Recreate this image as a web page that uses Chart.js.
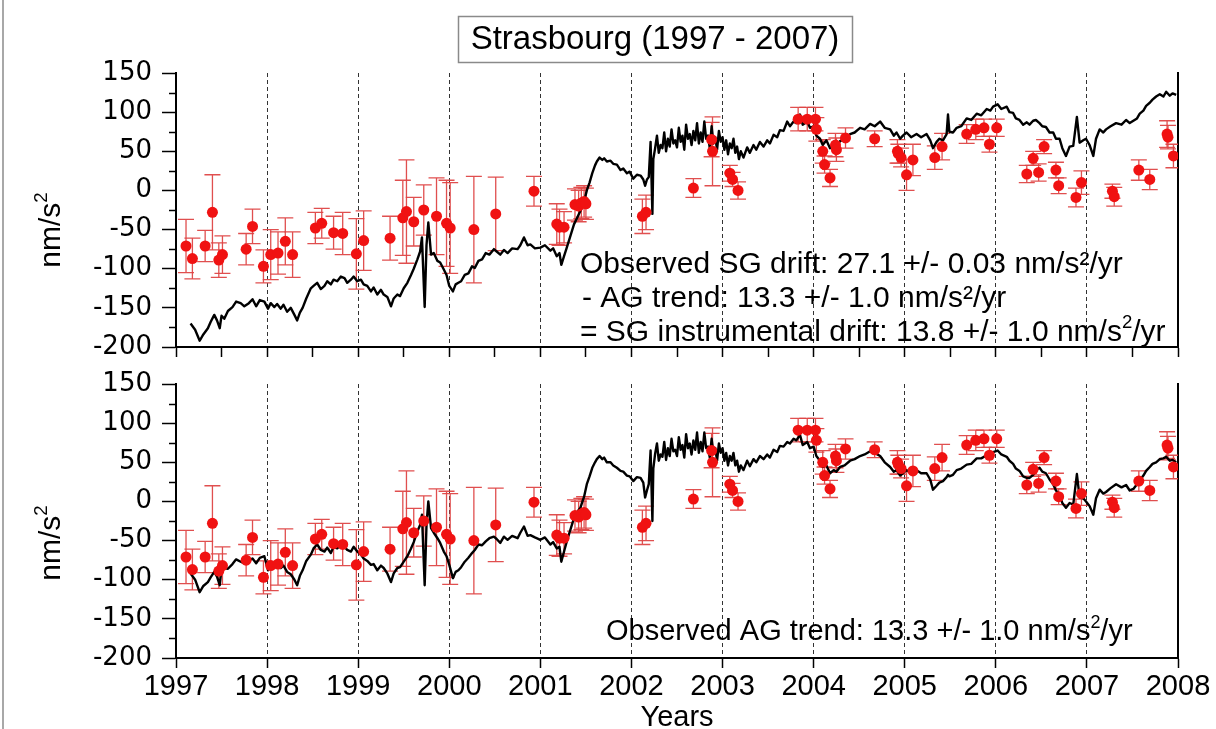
<!DOCTYPE html>
<html>
<head>
<meta charset="utf-8">
<script src="https://cdn.jsdelivr.net/npm/chart.js@4.4.1/dist/chart.umd.min.js"></script>
<style>
  html, body { margin: 0; padding: 0; background: #fff; }
  #wrap { position: relative; width: 1216px; height: 729px; overflow: hidden; }
  #wrap::before { content: ''; position: absolute; left: 2px; top: 0; width: 2px; height: 729px; background: #a8a8a8; }
  #top { position: absolute; left: 0; top: 0; }
  #bottom { position: absolute; left: 0; top: 365px; }
</style>
</head>
<body>
<div id="wrap">
  <canvas id="top" width="1216" height="365"></canvas>
  <canvas id="bottom" width="1216" height="364"></canvas>
</div>
<script>
// SG record (black line), one row per year
const sgYears = [
  1997.16, 1997.21, 1997.26, 1997.30, 1997.35, 1997.38, 1997.42, 1997.45, 1997.48, 1997.50, 1997.53, 1997.57, 1997.62, 1997.66, 1997.71, 1997.75, 1997.80, 1997.84, 1997.88, 1997.92, 1997.97,
  1998.01, 1998.04, 1998.08, 1998.11, 1998.15, 1998.18, 1998.22, 1998.26, 1998.30, 1998.33, 1998.36, 1998.39, 1998.43, 1998.48, 1998.51, 1998.55, 1998.59, 1998.63, 1998.66, 1998.70, 1998.73, 1998.77, 1998.81, 1998.85, 1998.88, 1998.92, 1998.95, 1998.99,
  1999.03, 1999.06, 1999.10, 1999.14, 1999.17, 1999.21, 1999.25, 1999.28, 1999.32, 1999.36, 1999.39, 1999.43, 1999.46, 1999.50, 1999.54, 1999.58, 1999.61, 1999.65, 1999.68, 1999.70, 1999.73, 1999.75, 1999.77, 1999.80, 1999.83, 1999.87, 1999.90, 1999.94, 1999.97, 2000.00,
  2000.04, 2000.07, 2000.10, 2000.13, 2000.17, 2000.21, 2000.25, 2000.28, 2000.32, 2000.36, 2000.40, 2000.44, 2000.49, 2000.52, 2000.56, 2000.60, 2000.64, 2000.69, 2000.75, 2000.78, 2000.82, 2000.86, 2000.89, 2000.94, 2001.00,
  2001.05, 2001.11, 2001.14, 2001.18, 2001.21, 2001.23, 2001.26, 2001.29, 2001.33, 2001.37, 2001.40, 2001.44, 2001.48, 2001.51, 2001.54, 2001.57, 2001.60, 2001.62, 2001.65, 2001.68, 2001.70, 2001.73, 2001.77, 2001.80, 2001.84, 2001.88, 2001.91, 2001.95, 2001.98,
  2002.02, 2002.06, 2002.10, 2002.13, 2002.15, 2002.17, 2002.19, 2002.21, 2002.23, 2002.24, 2002.26,
  2002.28, 2002.30, 2002.32, 2002.34, 2002.36, 2002.38, 2002.40, 2002.42, 2002.44, 2002.46, 2002.48, 2002.50, 2002.52, 2002.54, 2002.56, 2002.58, 2002.60, 2002.62,
  2002.64, 2002.66, 2002.68, 2002.70, 2002.72, 2002.74, 2002.76, 2002.78, 2002.80, 2002.82, 2002.84, 2002.86, 2002.88, 2002.90, 2002.92, 2002.94, 2002.96, 2002.98,
  2003.00, 2003.02, 2003.04, 2003.06, 2003.08, 2003.10, 2003.12, 2003.14, 2003.16, 2003.18, 2003.20, 2003.23, 2003.27, 2003.30, 2003.34, 2003.37, 2003.41, 2003.45, 2003.49, 2003.52, 2003.56, 2003.60, 2003.63, 2003.67, 2003.71, 2003.74, 2003.78, 2003.81, 2003.85, 2003.88, 2003.93, 2003.96, 2004.00,
  2004.03, 2004.07, 2004.10, 2004.14, 2004.18, 2004.22, 2004.25, 2004.29, 2004.34, 2004.40, 2004.45, 2004.51, 2004.56, 2004.62, 2004.67, 2004.73, 2004.78, 2004.84, 2004.88, 2004.91, 2004.95, 2004.98,
  2005.02, 2005.07, 2005.13, 2005.18, 2005.24, 2005.28, 2005.31, 2005.35, 2005.38, 2005.42, 2005.46, 2005.475, 2005.49, 2005.53, 2005.57, 2005.62, 2005.68, 2005.73, 2005.79, 2005.84, 2005.90, 2005.94, 2005.97,
  2006.02, 2006.06, 2006.12, 2006.15, 2006.19, 2006.22, 2006.26, 2006.30, 2006.34, 2006.37, 2006.41, 2006.44, 2006.48, 2006.51, 2006.55, 2006.59, 2006.63, 2006.66, 2006.70, 2006.73, 2006.77, 2006.81, 2006.85, 2006.89, 2006.92, 2006.96, 2006.99,
  2007.03, 2007.07, 2007.10, 2007.14, 2007.18, 2007.21, 2007.26, 2007.32, 2007.38, 2007.43, 2007.47, 2007.51, 2007.55, 2007.58, 2007.62, 2007.65, 2007.69, 2007.72, 2007.76, 2007.80, 2007.84, 2007.87, 2007.91, 2007.94, 2007.98
];
// top panel: observed SG
const sgObserved = [
  -170, -178, -192, -184, -176, -168, -159, -166, -176, -160, -164, -154, -149, -142, -144, -148, -144, -139, -148, -140, -142,
  -151, -144, -149, -145, -151, -146, -155, -150, -159, -166, -156, -150, -138, -125, -122, -118, -126, -122, -116, -120, -114, -116, -110, -112, -118, -114, -110, -116,
  -114, -120, -122, -129, -124, -133, -127, -133, -136, -148, -138, -133, -135, -125, -118, -108, -100, -88, -78, -60, -149, -70, -41, -82, -80, -90, -92, -101, -108, -122,
  -129, -120, -118, -116, -108, -106, -97, -99, -90, -88, -80, -82, -75, -78, -82, -76, -80, -74, -75, -70, -60, -70, -69, -74, -73,
  -70, -77, -74, -84, -80, -95, -84, -73, -58, -43, -36, -26, -14, 0, 10, 22, 32, 37, 42, 39, 41, 37, 38, 34, 33, 26, 28, 22, 24,
  15, 20, 19, 14, 6, 14, 17, 62, -30, 40, 54,
  70, 48, 58, 54, 74, 50, 66, 56, 78, 60, 64, 55, 80, 62, 70, 52, 84, 66,
  72, 58, 76, 64, 86, 60, 74, 62, 88, 66, 70, 54, 82, 60, 68, 52, 76, 62,
  68, 52, 64, 46, 60, 54, 66, 48, 56, 40, 50, 42, 55, 48, 58, 52, 62, 56, 64, 60, 71, 68, 77, 76, 88, 82, 88, 86, 97, 84, 88, 80, 82,
  70, 66, 58, 64, 54, 60, 56, 63, 66, 72, 74, 80, 78, 85, 82, 88, 80, 78, 70, 74, 66, 70,
  74, 68, 72, 68, 72, 64, 54, 62, 66, 64, 72, 97, 75, 74, 80, 82, 92, 90, 98, 96, 104, 102, 107,
  110, 104, 107, 100, 99, 92, 90, 84, 87, 84, 89, 90, 86, 82, 81, 74, 74, 66, 66, 54, 44, 56, 57, 94, 61, 64, 66,
  58, 44, 66, 78, 74, 78, 82, 86, 84, 90, 86, 89, 92, 98, 102, 108, 112, 116, 120, 123, 120, 126, 121, 124, 122
];
// bottom panel: SG with the instrumental drift removed
const sgCorrected = [
  -92, -100, -116, -108, -103, -97, -90, -96, -107, -86, -85, -86, -80, -74, -77, -79, -75, -73, -79, -72, -70,
  -88, -80, -83, -79, -85, -82, -90, -93, -100, -107, -95, -88, -76, -68, -60, -55, -62, -64, -59, -66, -58, -60, -55, -58, -62, -64, -58, -64,
  -68, -73, -76, -81, -80, -88, -82, -85, -92, -103, -92, -85, -84, -77, -70, -60, -52, -38, -30, -17, -107, -30, 0, -34, -40, -47, -53, -64, -70, -81,
  -98, -90, -88, -84, -77, -72, -66, -62, -55, -56, -51, -47, -45, -48, -53, -45, -49, -44, -47, -40, -32, -44, -43, -46, -49,
  -46, -55, -52, -60, -58, -77, -64, -51, -36, -21, -14, -8, 6, 22, 32, 43, 50, 54, 58, 54, 56, 50, 50, 46, 43, 39, 38, 33, 32,
  26, 31, 30, 24, 5, 14, 22, 65, -25, 42, 61,
  74, 52, 60, 57, 76, 53, 68, 58, 80, 64, 66, 58, 82, 66, 72, 56, 86, 68,
  74, 60, 78, 66, 88, 62, 76, 64, 88, 68, 70, 56, 80, 62, 68, 52, 74, 62,
  68, 52, 62, 46, 58, 52, 62, 46, 52, 38, 46, 40, 52, 45, 54, 50, 58, 54, 60, 56, 66, 63, 71, 70, 76, 74, 80, 78, 85, 72, 76, 68, 70,
  58, 52, 44, 46, 36, 40, 38, 44, 46, 52, 54, 58, 60, 64, 62, 58, 50, 44, 38, 40, 33, 36,
  40, 36, 40, 36, 36, 28, 15, 20, 24, 26, 31, 34, 32, 34, 40, 42, 47, 48, 55, 55, 59, 60, 63,
  65, 60, 57, 52, 48, 42, 39, 32, 30, 30, 34, 40, 43, 38, 36, 28, 22, 14, 9, -2, -8, -2, -4, 35, 5, 4, 0,
  -6, -17, 4, 15, 10, 12, 17, 22, 18, 21, 14, 16, 22, 27, 33, 39, 44, 48, 50, 54, 55, 57, 52, 53, 50
];

// AG measurements (red points, same in both panels)
const agYears = [
  1997.11, 1997.18, 1997.32, 1997.40, 1997.47, 1997.51, 1997.77, 1997.84, 1997.96,
  1998.04, 1998.12, 1998.20, 1998.28, 1998.53, 1998.60, 1998.73, 1998.83, 1998.98,
  1999.06, 1999.35, 1999.49, 1999.53, 1999.61, 1999.72, 1999.86, 1999.97,
  2000.01, 2000.27, 2000.51, 2000.93,
  2001.18, 2001.21, 2001.26, 2001.38, 2001.42, 2001.45, 2001.48, 2001.50,
  2002.12, 2002.16, 2002.68, 2002.88, 2002.89,
  2003.08, 2003.11, 2003.17, 2003.83, 2003.93,
  2004.02, 2004.03, 2004.10, 2004.12, 2004.18, 2004.24, 2004.25, 2004.35, 2004.67, 2004.92, 2004.93, 2004.96,
  2005.02, 2005.09, 2005.33, 2005.41, 2005.68, 2005.78, 2005.87, 2005.93,
  2006.01, 2006.34, 2006.41, 2006.47, 2006.53, 2006.66, 2006.69, 2006.88, 2006.94,
  2007.28, 2007.30, 2007.57, 2007.69, 2007.88, 2007.89, 2007.95
];
const agValues = [
  -71, -87, -71, -28, -89, -82, -75, -46, -97,
  -82, -80, -65, -82, -48, -42, -54, -55, -81,
  -64, -61, -35, -27, -40, -25, -33, -42,
  -48, -50, -30, -1,
  -43, -47, -47, -18, -20, -16, -14, -17,
  -33, -28, 3, 65, 50,
  22, 14, 0, 91, 91,
  91, 78, 50, 33, 16, 58, 52, 67, 66, 50, 47, 42,
  20, 39, 42, 56, 72, 78, 80, 59,
  80, 21, 41, 23, 56, 26, 6, -9, 10,
  -1, -8, 26, 14, 72, 68, 44
];
const agErrors = [
  34, 26, 20, 48, 22, 24, 20, 22, 21,
  32, 27, 30, 29, 20, 19, 21, 27, 45,
  38, 28, 48, 66, 31, 32, 49, 55,
  58, 68, 47, 19,
  26, 23, 20, 20, 20, 20, 20, 20,
  22, 22, 12, 22, 44,
  10, 9, 11, 15, 15,
  15, 15, 15, 11, 11, 15, 15, 13, 10, 15, 12, 12,
  20, 20, 15, 17, 12, 13, 11, 10,
  11, 11, 9, 11, 9, 10, 10, 12, 15,
  9, 12, 13, 13, 17, 15, 15
];

const yearTicks = [1997, 1998, 1999, 2000, 2001, 2002, 2003, 2004, 2005, 2006, 2007, 2008];
const halfYearTicks = [1997, 1997.5, 1998, 1998.5, 1999, 1999.5, 2000, 2000.5, 2001, 2001.5, 2002, 2002.5,
  2003, 2003.5, 2004, 2004.5, 2005, 2005.5, 2006, 2006.5, 2007, 2007.5, 2008];
const valueTicks = [-200, -150, -100, -50, 0, 50, 100, 150];
const valueMinorTicks = [-175, -125, -75, -25, 25, 75, 125];

const SANS = "'Liberation Sans', Arial, sans-serif";

// draw a string made of normal and superscript pieces
function drawParts(ctx, parts, x, y, size) {
  let cx = x;
  parts.forEach(p => {
    const s = p.sup ? size * 0.62 : size;
    ctx.font = s + 'px ' + SANS;
    ctx.fillText(p.t, cx, p.sup ? y - size * 0.42 : y);
    cx += ctx.measureText(p.t).width;
  });
}

// error bars, minor ticks and the texts of each panel
const decor = {
  id: 'decor',
  beforeDatasetsDraw(chart) {
    const ctx = chart.ctx, xs = chart.scales.x, ys = chart.scales.y, a = chart.chartArea;
    ctx.save();
    ctx.beginPath();
    ctx.rect(a.left, a.top, a.right - a.left, a.bottom - a.top);
    ctx.clip();
    ctx.strokeStyle = 'rgba(222,70,70,0.95)';
    ctx.lineWidth = 1.3;
    agYears.forEach((yr, i) => {
      const x = xs.getPixelForValue(yr);
      const y1 = ys.getPixelForValue(agValues[i] + agErrors[i]);
      const y2 = ys.getPixelForValue(agValues[i] - agErrors[i]);
      ctx.beginPath();
      ctx.moveTo(x, y1); ctx.lineTo(x, y2);
      ctx.moveTo(x - 8, y1); ctx.lineTo(x + 8, y1);
      ctx.moveTo(x - 8, y2); ctx.lineTo(x + 8, y2);
      ctx.stroke();
    });
    ctx.restore();
  },
  afterDraw(chart) {
    const ctx = chart.ctx, ys = chart.scales.y, a = chart.chartArea;
    const o = chart.options.plugins.decor;
    ctx.save();
    // minor ticks on the value axis
    ctx.strokeStyle = '#000';
    ctx.lineWidth = 1.5;
    valueMinorTicks.forEach(v => {
      const y = Math.round(ys.getPixelForValue(v)) + 0.5;
      ctx.beginPath(); ctx.moveTo(a.left - 7, y); ctx.lineTo(a.left, y); ctx.stroke();
    });
    ctx.fillStyle = '#000';
    ctx.textBaseline = 'alphabetic';
    ctx.textAlign = 'left';
    // axis title, rotated
    ctx.save();
    ctx.translate(60, o.unitY);
    ctx.rotate(-Math.PI / 2);
    ctx.font = '30px ' + SANS;
    const w = ctx.measureText('nm/s').width;
    ctx.font = '19px ' + SANS;
    const w2 = ctx.measureText('2').width;
    drawParts(ctx, [{t: 'nm/s'}, {t: '2', sup: true}], -(w + w2) / 2, 0, 30);
    ctx.restore();
    (o.lines || []).forEach(l => drawParts(ctx, l.parts, l.x, l.y, l.size));
    if (o.title) {
      ctx.strokeStyle = '#8a8a8a';
      ctx.lineWidth = 1.5;
      ctx.strokeRect(458.5, 16.5, 394, 46);
      ctx.font = '33px ' + SANS;
      ctx.textAlign = 'center';
      ctx.textBaseline = 'middle';
      ctx.fillText(o.title, 655, 40);
    }
    if (o.xTitle) {
      ctx.font = '29px ' + SANS;
      ctx.textAlign = 'center';
      ctx.textBaseline = 'alphabetic';
      ctx.fillText(o.xTitle, 677, 361);
    }
    ctx.restore();
  }
};

function noPad(s) {
  s.paddingTop = 0; s.paddingBottom = 0; s.paddingLeft = 0; s.paddingRight = 0;
}

function makePanel(canvasId, values, p) {
  return new Chart(document.getElementById(canvasId), {
    type: 'line',
    data: {
      datasets: [
        {
          type: 'scatter',
          data: agYears.map((x, i) => ({x: x, y: agValues[i]})),
          backgroundColor: '#f01212',
          borderWidth: 0,
          pointRadius: 5.5,
          order: 0
        },
        {
          type: 'line',
          data: sgYears.map((x, i) => ({x: x, y: values[i]})),
          borderColor: '#000',
          borderWidth: 2.4,
          borderJoinStyle: 'round',
          pointRadius: 0,
          tension: 0,
          fill: false,
          order: 1
        }
      ]
    },
    options: {
      responsive: false,
      animation: false,
      events: [],
      layout: {padding: {left: 0, right: 38, top: p.padTop, bottom: 0}},
      plugins: {
        legend: {display: false},
        tooltip: {enabled: false},
        decor: p.decor
      },
      scales: {
        x: {
          type: 'linear',
          min: 1997, max: 2008,
          afterBuildTicks: s => { s.ticks = p.xTicks.map(v => ({value: v})); },
          afterFit: s => { s.height = p.xHeight; noPad(s); },
          ticks: {
            display: p.xLabels,
            autoSkip: false, maxRotation: 0,
            padding: 2,
            color: '#000',
            font: {family: SANS, size: 29},
            callback: v => String(v)
          },
          grid: {
            color: c => (c.tick && Number.isInteger(c.tick.value) && c.tick.value > 1997 && c.tick.value < 2008) ? '#333' : 'rgba(0,0,0,0)',
            lineWidth: 1,
            tickColor: '#000',
            tickWidth: 1.5,
            tickLength: 10
          },
          border: {color: '#000', width: 2, dash: [4, 3]}
        },
        y: {
          min: -200, max: 150,
          afterBuildTicks: s => { s.ticks = valueTicks.map(v => ({value: v})); },
          afterFit: s => { s.width = 176; noPad(s); },
          ticks: {
            autoSkip: false,
            padding: 10,
            color: '#000',
            font: {family: "'DejaVu Sans', sans-serif", size: 26},
            callback: v => String(v)
          },
          grid: {drawOnChartArea: false, tickLength: 14, tickWidth: 1.5, tickColor: '#000'},
          border: {color: '#000', width: 2}
        },
        yRight: {
          position: 'right',
          min: -200, max: 150,
          afterFit: s => { s.width = 0; noPad(s); },
          ticks: {display: false},
          grid: {display: false},
          border: {display: true, color: '#000', width: 2}
        }
      }
    },
    plugins: [decor]
  });
}

makePanel('top', sgObserved, {
  padTop: 73, xHeight: 18, xTicks: halfYearTicks, xLabels: false,
  decor: {
    unitY: 230,
    title: 'Strasbourg (1997 - 2007)',
    lines: [
      {x: 580, y: 273, size: 30, parts: [{t: 'Observed SG drift: 27.1 +/- 0.03 nm/s\u00b2/yr'}]},
      {x: 582, y: 307, size: 30, parts: [{t: '- AG trend: 13.3 +/- 1.0 nm/s\u00b2/yr'}]},
      {x: 580, y: 341, size: 30, parts: [{t: '= SG instrumental drift: 13.8 +/- 1.0 nm/s'}, {t: '2', sup: true}, {t: '/yr'}]}
    ]
  }
});

makePanel('bottom', sgCorrected, {
  padTop: 19, xHeight: 71, xTicks: yearTicks, xLabels: true,
  decor: {
    unitY: 178,
    xTitle: 'Years',
    lines: [
      {x: 606, y: 275, size: 29, parts: [{t: 'Observed AG trend: 13.3 +/- 1.0 nm/s'}, {t: '2', sup: true}, {t: '/yr'}]}
    ]
  }
});
</script>
</body>
</html>
